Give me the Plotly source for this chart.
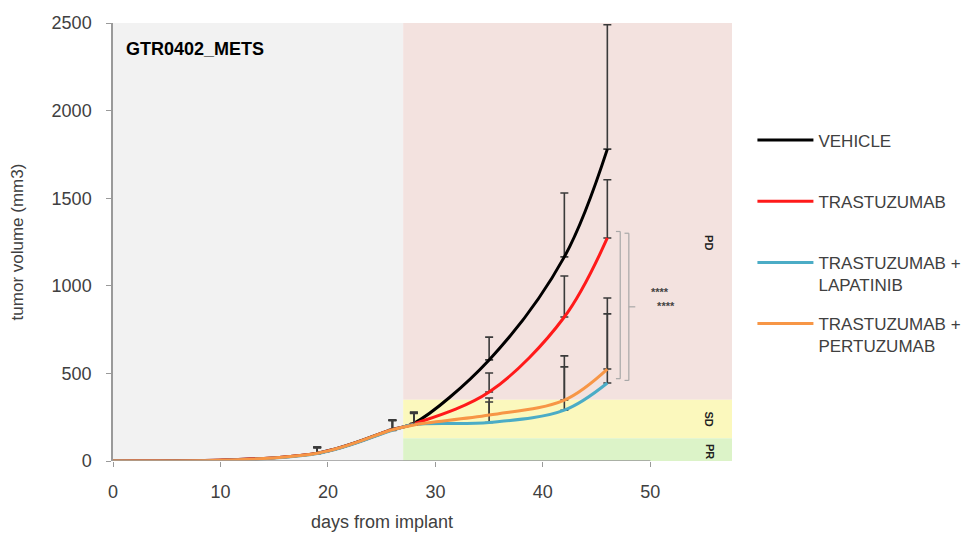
import plotly.graph_objects as go

# ---------------- data ----------------
days = [0, 19, 26, 28, 35, 42, 46]
vehicle = [0, 45, 180, 215, 577, 1165, 1780]
vehicle_err = [None, 35, 55, 65, 130, 365, 710]
trastuzumab = [0, 45, 178, 212, 394, 822, 1273]
trastuzumab_err = [None, 33, 55, 65, 108, 234, 332]
lapatinib = [0, 42, 175, 208, 220, 290, 445]
lapatinib_err = [None, 33, 55, 65, 117, 247, 395]
pertuzumab = [0, 44, 178, 206, 262, 348, 525]
pertuzumab_err = [None, 35, 55, 65, 98, 252, 405]

series_names = ["VEHICLE", "TRASTUZUMAB", "TRASTUZUMAB +<br>LAPATINIB", "TRASTUZUMAB +<br>PERTUZUMAB"]
series_vals = [vehicle, trastuzumab, lapatinib, pertuzumab]
series_errs = [vehicle_err, trastuzumab_err, lapatinib_err, pertuzumab_err]
series_colors = ["#000000", "#ff1a1a", "#4bacc6", "#f79646"]

x_ticks = [0, 10, 20, 30, 40, 50]
y_ticks = [0, 500, 1000, 1500, 2000, 2500]

# response zones
treat_start = 27
x_end = 57.6
pd_floor = 350
pr_ceiling = 130

FONT = "Liberation Sans"

fig = go.Figure()

for name, vals, errs, col in zip(series_names, series_vals, series_errs, series_colors):
    zeros = [0 if e is not None else None for e in errs]
    label = name if "<br>" in name else name + "<br> "
    fig.add_trace(go.Scatter(
        x=days, y=vals, name=label, mode="lines",
        line=dict(color=col, width=3, shape="spline", smoothing=1.0),
        error_y=dict(type="data", array=errs, arrayminus=zeros, symmetric=False,
                     color="#3a3a3a", thickness=1.6, width=4),
        legendgroup=name,
    ))

# background zones
fig.add_shape(type="rect", xref="x", yref="y", x0=0, x1=treat_start, y0=0, y1=2500,
              fillcolor="#f2f2f2", line_width=0, layer="below")
fig.add_shape(type="rect", xref="x", yref="y", x0=treat_start, x1=x_end, y0=pd_floor, y1=2500,
              fillcolor="#f3e2df", line_width=0, layer="below")
fig.add_shape(type="rect", xref="x", yref="y", x0=treat_start, x1=x_end, y0=pr_ceiling, y1=pd_floor,
              fillcolor="#fbf8bd", line_width=0, layer="below")
fig.add_shape(type="rect", xref="x", yref="y", x0=treat_start, x1=x_end, y0=0, y1=pr_ceiling,
              fillcolor="#dcf3c8", line_width=0, layer="below")

# x axis line (only to 50)
fig.add_shape(type="line", xref="x", yref="y", x0=0, x1=50, y0=0, y1=0,
              line=dict(color="#9a9a9a", width=1.5))

# significance brackets
for bx, y0, y1 in [(47.2, 470, 1310), (48.0, 460, 1300)]:
    fig.add_shape(type="line", xref="x", yref="y", x0=bx, x1=bx, y0=y0, y1=y1,
                  line=dict(color="#a8a8a8", width=1.2))
    fig.add_shape(type="line", xref="x", yref="y", x0=bx - 0.4, x1=bx, y0=y1, y1=y1,
                  line=dict(color="#a8a8a8", width=1.2))
    fig.add_shape(type="line", xref="x", yref="y", x0=bx - 0.4, x1=bx, y0=y0, y1=y0,
                  line=dict(color="#a8a8a8", width=1.2))
fig.add_shape(type="line", xref="x", yref="y", x0=48.0, x1=48.6, y0=880, y1=880,
              line=dict(color="#a8a8a8", width=1.2))

fig.add_annotation(x=51.2, y=925, xref="x", yref="y",
                   text="<b>****</b><br><b>&nbsp;&nbsp;****</b>", showarrow=False, align="left",
                   font=dict(family=FONT, size=11, color="#444444"))

# zone labels
for txt, yy in [("PD", 1247), ("SD", 240), ("PR", 55)]:
    fig.add_annotation(x=55.5, y=yy, xref="x", yref="y", text="<b>%s</b>" % txt, showarrow=False,
                       textangle=90, font=dict(family=FONT, size=11, color="#222222"))

# title inside plot
fig.add_annotation(x=0.018, y=0.94, xref="paper", yref="paper", xanchor="left", yanchor="middle",
                   text="<b>GTR0402_METS</b>", showarrow=False,
                   font=dict(family=FONT, size=18, color="#000000"))

# x-axis title, centred on the 0-50 axis span
fig.add_annotation(x=25, y=-0.139, xref="x", yref="paper", xanchor="center", yanchor="middle",
                   text="days from implant", showarrow=False,
                   font=dict(family=FONT, size=18, color="#404040"))

fig.update_layout(
    width=970, height=535,
    margin=dict(l=105, r=230, t=15, b=82),
    paper_bgcolor="#ffffff", plot_bgcolor="rgba(0,0,0,0)",
    font=dict(family=FONT, color="#404040"),
    showlegend=True,
    legend=dict(x=1.033, y=0.773, xanchor="left", yanchor="top",
                font=dict(family=FONT, size=17, color="#404040"),
                tracegroupgap=14, valign="top", itemwidth=56,
                bgcolor="rgba(0,0,0,0)"),
)
fig.update_xaxes(range=[0, x_end], tickvals=x_ticks, ticktext=[str(v) for v in x_ticks],
                 showgrid=False, zeroline=False, showline=False, automargin=False,
                 ticks="outside", ticklen=5, tickcolor="#9a9a9a", ticklabelstandoff=9,
                 tickfont=dict(family=FONT, size=18, color="#404040"))
fig.update_yaxes(range=[0, 2500], tickvals=y_ticks, ticktext=[str(v) for v in y_ticks],
                 showgrid=False, zeroline=False, showline=True, linecolor="#9a9a9a", linewidth=1.5,
                 automargin=False, ticklabelstandoff=11,
                 ticks="outside", ticklen=5, tickcolor="#9a9a9a",
                 tickfont=dict(family=FONT, size=18, color="#404040"),
                 title=dict(text="tumor volume (mm3)", font=dict(family=FONT, size=17, color="#404040"), standoff=28))

fig.write_html("out.html")
